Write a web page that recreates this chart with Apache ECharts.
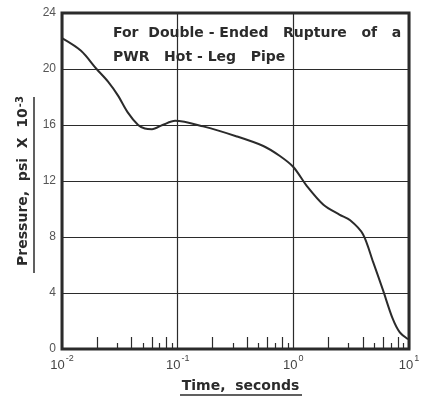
<!DOCTYPE html>
<html>
<head>
<meta charset="utf-8">
<script src="https://cdn.jsdelivr.net/npm/echarts@6/dist/echarts.min.js"></script>
<style>
  html, body { margin: 0; padding: 0; background: #fff; }
  #chart { width: 429px; height: 398px; }
</style>
</head>
<body>
<div id="chart"></div>
<script>
  // time in seconds (log axis) and pressure in psi x 10^-3
  const times = [0.01, 0.0146, 0.0199, 0.025, 0.0305, 0.037, 0.0455, 0.052, 0.06, 0.074, 0.095, 0.166, 0.32, 0.55, 0.76, 1.0, 1.32, 1.82, 2.5, 3.1, 4.0, 4.9, 5.96, 7.2, 8.3, 9.8];
  const pressure = [22.2, 21.3, 20.0, 19.1, 18.1, 16.9, 16.0, 15.75, 15.7, 16.0, 16.3, 15.9, 15.2, 14.5, 13.8, 13.0, 11.6, 10.3, 9.6, 9.2, 8.2, 6.2, 4.2, 2.2, 1.2, 0.7];
  // small ticks drawn inside the frame along the time axis
  const longTicks = [0.02, 0.04, 0.06, 0.08, 0.2, 0.4, 0.6, 0.8, 2, 4, 6, 8];
  const shortTicks = [0.03, 0.05, 0.07, 0.09, 0.3, 0.5, 0.7, 0.9, 3, 5, 7, 9];

  const ink = "#2b2b2b";
  const font = "Liberation Sans";
  const titleFont = "DejaVu Sans";

  const chart = echarts.init(document.getElementById("chart"));

  const expLabel = (v) => "{b|10}{s|" + Math.round(Math.log10(v)) + "}";
  const rich = {
    b: { fontSize: 13, color: "#444", fontFamily: font, padding: [6, 0, 0, 0] },
    s: { fontSize: 9, color: "#444", fontFamily: font, verticalAlign: "top", padding: [1, 0, 4, 1] },
  };

  const tickAxis = (values, len) => ({
    type: "log",
    logBase: 10,
    min: 0.01,
    max: 10,
    position: "bottom",
    axisLine: { show: false },
    axisTick: {
      show: true,
      inside: true,
      length: len,
      customValues: values,
      lineStyle: { color: ink, width: 1.2 },
    },
    axisLabel: { show: false },
    splitLine: { show: false },
  });

  const option = {
    backgroundColor: "#fff",
    animation: false,
    grid: {
      left: 62,
      right: 20,
      top: 13,
      bottom: 46,
      show: true,
      borderColor: ink,
      borderWidth: 3,
    },
    xAxis: [
      {
        type: "log",
        logBase: 10,
        min: 0.01,
        max: 10,
        name: "Time,  seconds",
        nameLocation: "middle",
        nameGap: 30,
        nameTextStyle: { fontFamily: titleFont, fontSize: 14, fontWeight: "bold", color: ink, padding: [0, 0, 0, 10] },
        axisLine: { show: false },
        axisTick: { show: false },
        axisLabel: {
          margin: 4,
          formatter: expLabel,
          rich: rich,
        },
        splitLine: { show: true, lineStyle: { color: ink, width: 1.2 } },
      },
      tickAxis(longTicks, 12),
      tickAxis(shortTicks, 6),
    ],
    yAxis: {
      type: "value",
      min: 0,
      max: 24,
      interval: 4,
      name: "Pressure,  psi  X  10{s|-3}",
      nameLocation: "middle",
      nameRotate: 90,
      nameGap: 31,
      nameTextStyle: {
        fontFamily: titleFont,
        fontSize: 14,
        fontWeight: "bold",
        color: ink,
        rich: { s: { fontFamily: titleFont, fontSize: 10, fontWeight: "bold", color: ink, verticalAlign: "top", padding: [0, 0, 6, 1] } },
      },
      axisLine: { show: false },
      axisTick: { show: false },
      axisLabel: { fontFamily: font, fontSize: 12, color: "#555", margin: 6 },
      splitLine: { show: true, lineStyle: { color: ink, width: 1.2 } },
    },
    graphic: [
      {
        type: "text",
        left: 113,
        top: 21,
        style: {
          text: "For  Double - Ended   Rupture   of   a\nPWR   Hot - Leg   Pipe",
          font: "bold 14px " + titleFont,
          fill: ink,
          lineHeight: 24,
        },
      },
      { type: "line", shape: { x1: 34, y1: 97, x2: 34, y2: 273 }, style: { stroke: ink, lineWidth: 1.5 } },
      { type: "line", shape: { x1: 180, y1: 395, x2: 302, y2: 395 }, style: { stroke: ink, lineWidth: 1.5 } },
    ],
    series: [
      {
        type: "line",
        data: times.map((t, i) => [t, pressure[i]]),
        smooth: 0.3,
        showSymbol: false,
        lineStyle: { color: ink, width: 2 },
      },
    ],
  };

  chart.setOption(option);
</script>
</body>
</html>
